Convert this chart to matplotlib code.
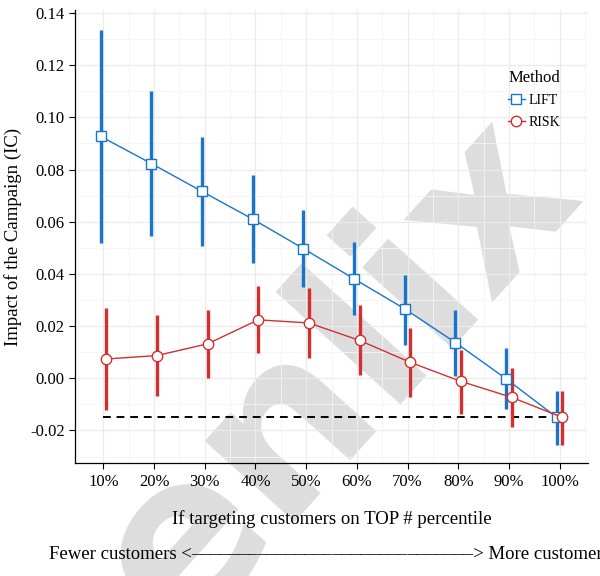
import numpy as np
import matplotlib
matplotlib.use('Agg')
import matplotlib.pyplot as plt
from matplotlib.ticker import MultipleLocator, FormatStrFormatter

plt.rcParams['font.family'] = ['Liberation Serif', 'DejaVu Serif']

percentiles = ['10%', '20%', '30%', '40%', '50%', '60%', '70%', '80%', '90%', '100%']

lift_mean = [0.0927, 0.0823, 0.0716, 0.0610, 0.0497, 0.0381, 0.0266, 0.0137, -0.0002, -0.0150]
lift_low = [0.0518, 0.0546, 0.0505, 0.0442, 0.0348, 0.0241, 0.0128, 0.0010, -0.0117, -0.0255]
lift_high = [0.1333, 0.1099, 0.0924, 0.0780, 0.0646, 0.0522, 0.0397, 0.0263, 0.0116, -0.0047]

risk_mean = [0.0074, 0.0087, 0.0132, 0.0224, 0.0212, 0.0145, 0.0061, -0.0012, -0.0073, -0.0150]
risk_low = [-0.0123, -0.0067, 0.0002, 0.0097, 0.0077, 0.0011, -0.0073, -0.0137, -0.0187, -0.0255]
risk_high = [0.0269, 0.0243, 0.0263, 0.0352, 0.0346, 0.0282, 0.0192, 0.0109, 0.0039, -0.0047]

baseline = -0.015

blue = '#1874CD'
red = '#D32F2F'

fig = plt.figure(figsize=(6, 5.76), dpi=100)
ax = fig.add_axes([0.125, 0.196, 0.855, 0.787])
ax.set_facecolor('none')

# watermark behind the axes
fig.text(0.56, 0.35, 'enlix', fontsize=160, family='DejaVu Sans', weight='bold',
         color='#DDDDDD', rotation=48, ha='center', va='center', zorder=-1)

x = np.arange(1, len(percentiles) + 1)
dodge = 0.055

ax.vlines(x - dodge, lift_low, lift_high, color=blue, lw=2.4, zorder=3)
ax.vlines(x + dodge, risk_low, risk_high, color=red, lw=2.4, zorder=3)
ax.plot([1, 10], [baseline, baseline], color='black', ls=(0, (4, 3)), lw=1.4, zorder=2)
ax.plot(x - dodge, lift_mean, color=blue, lw=1.0, marker='s', ms=6.5,
        mfc='white', mec=blue, mew=1.0, zorder=4, label='LIFT')
ax.plot(x + dodge, risk_mean, color=red, lw=1.0, marker='o', ms=7.5,
        mfc='white', mec=red, mew=1.0, zorder=4, label='RISK')

ax.set_xlim(0.44, 10.56)
ax.set_ylim(-0.0325, 0.1412)
ax.set_xticks(x)
ax.set_xticklabels(percentiles)
ax.xaxis.set_minor_locator(MultipleLocator(0.5))
ax.yaxis.set_major_locator(MultipleLocator(0.02))
ax.yaxis.set_minor_locator(MultipleLocator(0.01))
ax.yaxis.set_major_formatter(FormatStrFormatter('%.2f'))
ax.grid(which='major', color='#EBEBEB', lw=0.9)
ax.grid(which='minor', color='#F4F4F4', lw=0.6)
ax.set_axisbelow(True)
ax.tick_params(which='major', labelsize=12, length=4, width=0.8, colors='black')
ax.tick_params(which='minor', length=0)
for s in ['top', 'right']:
    ax.spines[s].set_visible(False)
for s in ['left', 'bottom']:
    ax.spines[s].set_linewidth(0.9)

ax.set_ylabel('Impact of the Campaign (IC)', fontsize=13.5, labelpad=6)
ax.set_xlabel('If targeting customers on TOP # percentile', fontsize=13.5, labelpad=15)

leg = ax.legend(title='Method', loc='upper left', bbox_to_anchor=(0.82, 0.895),
                frameon=False, fontsize=10, title_fontsize=12, handlelength=1.2,
                handletextpad=0.3, labelspacing=0.6)

fig.text(0.082, 0.03, 'Fewer customers <' + '\u2013' * 30 + '> More customers',
         fontsize=13.5, ha='left', va='baseline')

fig.savefig('out.png', dpi=100)
